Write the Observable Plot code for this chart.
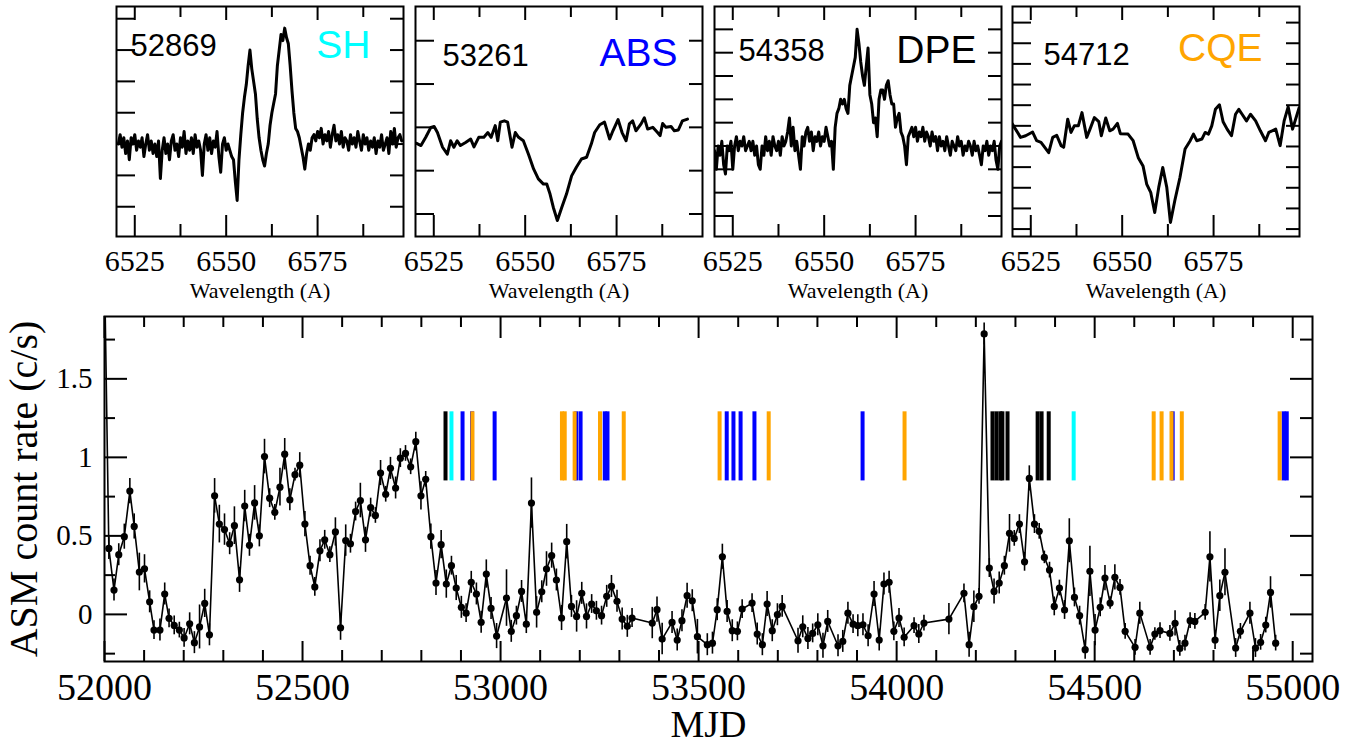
<!DOCTYPE html>
<html><head><meta charset="utf-8">
<script src="https://cdn.jsdelivr.net/npm/d3@7"></script>
<script src="https://cdn.jsdelivr.net/npm/@observablehq/plot@0.6"></script>
<style>
body{margin:0;background:#fff;}
#chart{position:relative;width:1367px;height:745px;overflow:hidden;background:#fff;}
#chart svg{position:absolute;background:transparent;overflow:visible;}
</style></head><body><div id="chart"></div>
<script>
// ---------------- DATA ----------------
// RXTE/ASM light curve: [MJD, count rate (c/s), error]
const lightCurve = [
[52000,2.2,0.08],[52011,0.42,0.07],[52024,0.155,0.07],[52036,0.38,0.07],[52050,0.495,0.08],[52064,0.785,0.08],
[52075,0.56,0.08],[52088,0.27,0.12],[52101,0.29,0.09],[52114,0.08,0.07],[52125,-0.10,0.06],[52140,-0.10,0.07],
[52152,0.13,0.07],[52163,-0.025,0.06],[52176,-0.07,0.06],[52189,-0.10,0.05],[52201,-0.15,0.06],[52215,-0.06,0.07],
[52227,-0.18,0.07],[52240,-0.08,0.14],[52253,0.07,0.09],[52265,-0.13,0.07],[52278,0.755,0.11],[52290,0.575,0.12],
[52303,0.54,0.10],[52316,0.45,0.07],[52328,0.565,0.12],[52341,0.22,0.08],[52354,0.69,0.10],[52366,0.44,0.07],
[52379,0.71,0.11],[52391,0.50,0.07],[52404,1.005,0.11],[52417,0.74,0.06],[52430,0.65,0.05],[52443,0.81,0.12],
[52455,1.02,0.10],[52468,0.73,0.07],[52481,0.89,0.04],[52493,0.95,0.08],[52506,0.575,0.08],[52519,0.31,0.06],
[52531,0.175,0.06],[52544,0.405,0.07],[52556,0.475,0.06],[52569,0.38,0.05],[52583,0.525,0.09],[52596,-0.085,0.08],
[52609,0.47,0.10],[52621,0.45,0.06],[52634,0.655,0.06],[52646,0.725,0.11],[52659,0.475,0.08],[52672,0.68,0.06],
[52684,0.63,0.05],[52697,0.90,0.08],[52710,0.765,0.05],[52722,0.93,0.07],[52735,0.805,0.07],[52747,0.995,0.06],
[52760,1.025,0.05],[52773,0.94,0.05],[52786,1.10,0.06],[52799,0.755,0.09],[52811,0.86,0.05],[52824,0.495,0.08],
[52837,0.20,0.08],[52850,0.444,0.09],[52863,0.193,0.09],[52876,0.31,0.06],[52888,0.168,0.08],[52901,0.045,0.07],
[52913,0.008,0.06],[52926,0.204,0.07],[52939,0.13,0.07],[52951,-0.05,0.07],[52964,0.257,0.09],[52976,0.038,0.07],
[52990,-0.138,0.08],[53015,0.104,0.18],[53027,-0.108,0.07],[53040,-0.008,0.06],[53053,0.146,0.07],[53065,-0.062,0.06],
[53078,0.709,0.16],[53091,0.013,0.10],[53104,0.144,0.07],[53116,0.289,0.11],[53129,0.374,0.08],[53141,0.219,0.07],
[53154,-0.023,0.08],[53167,0.463,0.11],[53179,0.051,0.07],[53192,-0.013,0.10],[53205,0.134,0.07],[53217,-0.013,0.08],
[53230,0.066,0.06],[53242,0.023,0.06],[53255,-0.008,0.06],[53268,0.115,0.07],[53280,0.178,0.07],[53294,0.083,0.07],
[53307,-0.03,0.07],[53320,-0.076,0.07],[53332,-0.023,0.06],[53383,-0.055,0.10],[53395,0.03,0.08],[53408,-0.157,0.10],
[53433,-0.051,0.07],[53446,-0.163,0.07],[53458,-0.04,0.07],[53471,0.119,0.08],[53484,0.087,0.07],[53497,-0.142,0.11],
[53522,-0.193,0.07],[53535,-0.183,0.07],[53547,0.03,0.07],[53560,0.367,0.08],[53572,0.019,0.07],[53585,-0.104,0.07],
[53598,-0.108,0.06],[53610,0.034,0.06],[53635,0.072,0.06],[53648,-0.125,0.07],[53661,-0.193,0.07],[53673,0.066,0.08],
[53686,-0.104,0.07],[53699,-0.002,0.07],[53711,0.051,0.07],[53751,-0.168,0.08],[53763,-0.079,0.07],[53776,-0.153,0.07],
[53788,-0.121,0.06],[53801,-0.066,0.07],[53814,-0.20,0.08],[53826,-0.045,0.07],[53852,-0.20,0.07],[53864,-0.172,0.07],
[53877,0.008,0.07],[53890,-0.062,0.06],[53902,-0.072,0.07],[53915,-0.066,0.07],[53928,-0.136,0.07],[53943,0.13,0.08],
[53956,-0.163,0.07],[53968,0.193,0.07],[53981,0.204,0.07],[53993,-0.108,0.06],[54006,-0.023,0.06],[54019,-0.146,0.06],
[54044,-0.072,0.05],[54056,-0.125,0.06],[54069,-0.055,0.05],[54132,-0.03,0.10],[54170,0.134,0.06],[54183,-0.193,0.08],
[54195,0.049,0.10],[54208,0.115,0.05],[54221,1.786,0.07],[54234,0.295,0.06],[54246,0.146,0.08],[54259,0.20,0.07],
[54272,0.31,0.06],[54285,0.516,0.12],[54297,0.484,0.05],[54310,0.575,0.06],[54323,0.335,0.06],[54335,0.866,0.08],
[54348,0.575,0.06],[54360,0.529,0.05],[54373,0.363,0.04],[54386,0.282,0.05],[54398,0.051,0.06],[54411,0.168,0.05],
[54424,0.028,0.06],[54436,0.469,0.14],[54449,0.108,0.06],[54462,-0.008,0.06],[54476,-0.225,0.06],[54488,0.274,0.16],
[54501,-0.10,0.10],[54514,0.045,0.06],[54526,0.231,0.08],[54539,0.072,0.04],[54551,0.236,0.08],[54564,0.172,0.05],
[54577,-0.108,0.05],[54602,-0.21,0.05],[54614,0.008,0.07],[54640,-0.21,0.05],[54652,-0.125,0.04],[54665,-0.104,0.05],
[54690,-0.121,0.05],[54703,-0.057,0.08],[54715,-0.217,0.05],[54728,-0.183,0.05],[54741,-0.04,0.05],[54753,-0.045,0.05],
[54779,0.013,0.05],[54791,0.367,0.16],[54804,-0.163,0.06],[54816,0.119,0.10],[54829,0.268,0.15],[54856,-0.214,0.06],
[54868,-0.108,0.05],[54892,0.008,0.07],[54906,-0.214,0.06],[54919,-0.178,0.05],[54932,-0.068,0.05],[54944,0.14,0.10],
[54957,-0.183,0.05]
];

// Dates (MJD) of the optical spectra, by profile type
const obsABS = [52904, 52928, 52985, 53191, 53202, 53263, 53270, 53571, 53588, 53606, 53641, 53914, 54697, 54977, 54985];
const obsCQE = [52929, 53155, 53162, 53187, 53251, 53311, 53553, 53677, 54020, 54649, 54669, 54694, 54720, 54967];
const obsSH  = [52876, 54447];
const obsDPE = [52861, 54242, 54252, 54262, 54267, 54280, 54356, 54366, 54384];
const obsBarRange = [0.85, 1.29];   // count-rate band the date markers span

const mjdTicks  = [52000, 52500, 53000, 53500, 54000, 54500, 55000];
const rateTicks = [0, 0.5, 1, 1.5];
const waveTicks = [6525, 6550, 6575];

// H-alpha spectra (normalised flux)
const shStart = 6520.5, shStep = 0.5;   // SH, MJD 52869
const shFlux = [
1.00,1.03,0.99,1.02,0.97,1.01,0.95,1.02,1.00,1.03,0.98,1.01,0.99,1.02,0.96,1.00,1.03,0.98,1.01,0.97,
1.00,0.96,1.01,0.89,0.98,1.02,0.97,1.00,0.95,1.01,1.03,0.98,1.00,0.96,1.02,0.99,1.04,0.97,1.01,0.98,
1.02,0.97,1.03,0.99,1.01,0.98,0.90,1.00,1.03,0.98,1.02,0.97,1.01,0.99,1.04,0.96,0.91,1.00,1.02,0.98,
1.00,0.98,0.96,0.95,0.88,0.82,0.95,1.03,1.10,1.15,1.19,1.25,1.30,1.24,1.20,1.16,1.08,1.02,0.98,0.95,
0.93,0.97,1.00,1.06,1.10,1.13,1.16,1.25,1.30,1.35,1.33,1.37,1.34,1.32,1.25,1.17,1.10,1.05,1.04,1.02,
0.99,0.96,0.92,0.97,1.00,0.98,1.02,1.03,1.01,1.04,1.02,1.05,1.00,1.03,1.01,1.04,0.99,1.03,1.06,1.01,
1.03,1.00,1.04,0.99,1.02,1.01,0.98,1.03,1.00,1.02,0.99,1.04,1.01,0.98,1.03,1.00,1.02,0.98,1.01,0.99,
1.02,0.97,1.01,0.99,1.03,0.98,1.00,1.02,0.97,1.04,1.00,1.05,0.99,1.02,1.03,1.01
];
const absWave = [6520.3,6521.5,6522.8,6524.2,6525.1,6526.0,6527.4,6528.7,6529.6,6530.5,
6531.4,6532.3,6533.7,6535.1,6536.0,6537.3,6538.7,6539.8,6540.7,6541.8,
6542.5,6543.2,6544.3,6545.2,6546.4,6547.3,6548.2,6549.5,6550.9,6552.3,
6553.6,6555.0,6555.9,6556.8,6557.7,6558.8,6560.0,6561.3,6562.7,6564.0,
6565.4,6566.8,6568.1,6569.0,6570.4,6571.7,6573.1,6574.0,6575.4,6576.5,
6577.6,6578.5,6579.4,6580.3,6581.7,6582.6,6583.5,6584.9,6586.2,6586.9,
6587.6,6588.5,6589.9,6590.8,6591.9,6593.0,6594.4];
const absFlux = [0.963,0.958,0.977,1.000,1.002,0.988,0.954,0.938,0.969,0.954,
0.969,0.958,0.965,0.973,0.955,0.977,0.977,0.988,0.977,1.004,
0.969,1.012,1.015,1.012,0.954,0.988,0.977,0.969,0.938,0.904,
0.881,0.869,0.869,0.846,0.815,0.785,0.815,0.846,0.888,0.908,
0.927,0.931,0.962,0.988,1.006,1.012,0.973,0.992,1.018,0.988,
0.969,1.008,1.015,0.992,1.008,1.022,0.996,1.000,0.988,0.981,
1.009,1.000,1.002,0.992,0.994,1.015,1.019];
const dpeStart = 6520.0, dpeStep = 0.5;  // DPE, MJD 54358
const dpeFlux = [
0.99,0.95,1.00,0.98,1.01,0.96,0.94,1.00,0.99,1.01,
0.95,1.00,1.02,0.99,1.01,1.00,1.02,0.99,1.00,1.01,
0.99,1.01,0.98,1.00,0.96,0.95,1.00,0.98,1.02,0.99,
1.01,0.98,1.02,1.00,0.99,1.01,0.98,1.02,1.00,1.01,
1.03,1.06,1.00,1.04,0.99,1.01,0.98,0.95,1.02,1.00,
1.03,1.04,1.01,1.03,0.99,1.02,1.01,1.03,1.00,1.02,
1.01,1.04,1.02,1.00,1.01,0.95,1.04,1.07,1.08,1.10,
1.09,1.10,1.08,1.07,1.13,1.15,1.17,1.19,1.25,1.22,
1.18,1.15,1.13,1.17,1.21,1.11,1.09,1.05,1.06,1.02,
1.10,1.12,1.12,1.10,1.13,1.14,1.11,1.09,1.09,1.04,
1.06,1.07,1.03,1.02,1.00,0.96,1.02,1.03,1.04,1.02,
1.04,1.01,1.03,1.02,1.04,1.01,1.03,1.02,1.00,1.03,
1.01,1.02,0.99,1.02,1.00,1.01,0.99,1.02,1.00,0.98,
1.01,1.00,0.99,1.02,1.00,1.01,0.98,1.00,0.99,1.01,
1.00,0.98,1.01,0.99,1.00,0.98,0.96,1.00,0.99,1.01,
0.98,1.00,0.99,1.01,0.97,0.95,1.00,1.01
];
const cqeWave = [6519.7,6520.4,6522.2,6523.6,6525.5,6526.6,6527.8,6529.9,6531.0,6532.1,
6533.3,6534.0,6535.1,6536.0,6536.9,6538.0,6539.0,6540.3,6541.2,6542.4,
6543.6,6544.3,6545.5,6546.6,6547.5,6548.7,6549.5,6551.6,6553.0,6554.4,
6555.7,6556.7,6557.8,6558.9,6560.0,6561.1,6562.2,6563.2,6564.4,6565.8,
6567.2,6568.6,6569.5,6570.4,6571.8,6572.7,6573.6,6574.5,6575.5,6576.6,
6577.6,6578.7,6579.9,6581.0,6581.9,6582.8,6584.0,6585.1,6586.5,6587.8,
6589.2,6590.1,6592.0,6593.2,6594.3,6595.4,6596.6,6598.4];
const cqeFlux = [1.008,0.998,0.972,0.976,0.985,0.964,0.960,0.935,0.972,0.977,
0.952,0.948,1.016,0.984,1.000,1.000,1.032,0.972,0.992,1.020,
1.010,0.976,1.019,0.988,0.992,1.006,0.981,0.980,0.964,0.923,
0.903,0.859,0.839,0.790,0.851,0.899,0.851,0.766,0.819,0.875,
0.944,0.964,0.980,0.964,0.968,0.984,0.980,1.000,1.040,1.051,
1.010,0.992,0.976,1.028,1.040,1.028,1.012,1.028,1.012,0.988,
0.964,0.984,0.992,0.952,1.012,1.046,0.992,1.044];

// ---------------- DRAWING ----------------
const serif = "'Liberation Serif','Times New Roman',serif";
const sans = "'Liberation Sans',Arial,Helvetica,sans-serif";
const chart = document.getElementById("chart");
function place(svg, left, top) {
  svg.style.left = left + "px"; svg.style.top = top + "px";
  chart.appendChild(svg);
}

const waveDomain = [6520, 6598.5];
const waveMinor = [6537.5, 6562.5, 6587.5];

const panels = [
  {wave: shFlux.map((_, i) => shStart + i * shStep), flux: shFlux, date: "52869", type: "SH", color: "#00ffff",
   left: 116, yDomain: [0.705, 1.439], yTicks: d3.range(0.8, 1.41, 0.1), dDx: 14, dDy: 27, tDx: -33, tDy: 24},
  {wave: absWave, flux: absFlux, date: "53261", type: "ABS", color: "#0000ff",
   left: 415, yDomain: [0.748, 1.279], yTicks: d3.range(0.8, 1.21, 0.1), dDx: 27, dDy: 37, tDx: -25, tDy: 32},
  {wave: dpeFlux.map((_, i) => dpeStart + i * dpeStep), flux: dpeFlux, date: "54358", type: "DPE", color: "#000000",
   left: 714, yDomain: [0.806, 1.299], yTicks: d3.range(0.85, 1.26, 0.05), dDx: 24, dDy: 32, tDx: -25, tDy: 29},
  {wave: cqeWave, flux: cqeFlux, date: "54712", type: "CQE", color: "#ffa500",
   left: 1012, yDomain: [0.732, 1.289], yTicks: d3.range(0.75, 1.26, 0.05), dDx: 31, dDy: 36, tDx: -37, tDy: 27}
];

for (const p of panels) {
  const fw = 287, fh = 230, ml = 8, mr = 8, mt = 6, mb = 69;
  const data = p.wave.map((w, i) => ({w, f: p.flux[i]}));
  const svg = Plot.plot({
    width: fw + ml + mr, height: fh + mt + mb,
    marginLeft: ml, marginRight: mr, marginTop: mt, marginBottom: mb,
    style: {background: "transparent", overflow: "visible"},
    x: {domain: waveDomain, axis: null},
    y: {domain: p.yDomain, axis: null},
    marks: [
      Plot.line(data, {x: "w", y: "f", stroke: "black", strokeWidth: 3, strokeLinejoin: "round", clip: true}),
      Plot.tickX(waveTicks, {x: d => d, insetTop: fh - 21, strokeWidth: 2}),
      Plot.tickX(waveMinor, {x: d => d, insetTop: fh - 12, strokeWidth: 2}),
      Plot.tickX(waveTicks, {x: d => d, insetBottom: fh - 14, strokeWidth: 2}),
      Plot.tickX(waveMinor, {x: d => d, insetBottom: fh - 11, strokeWidth: 2}),
      Plot.tickY(p.yTicks, {y: d => d, insetRight: fw - 19, strokeWidth: 2}),
      Plot.tickY(p.yTicks, {y: d => d, insetLeft: fw - 13, strokeWidth: 2}),
      Plot.frame({stroke: "black", strokeWidth: 2}),
      Plot.text(waveTicks, {x: d => d, text: d => String(d), frameAnchor: "bottom", dy: 13, lineAnchor: "top",
        textAnchor: "middle", fontSize: 30, fontFamily: serif, fill: "black"}),
      Plot.text(["Wavelength (A)"], {text: d => d, frameAnchor: "bottom", dy: 46, lineAnchor: "top",
        textAnchor: "middle", fontSize: 22, fontFamily: serif, fill: "black"}),
      Plot.text([p.date], {text: d => d, frameAnchor: "top-left", dx: p.dDx, dy: p.dDy, textAnchor: "start",
        lineAnchor: "top", fontSize: 31, fontFamily: sans, fill: "black"}),
      Plot.text([p.type], {text: d => d, frameAnchor: "top-right", dx: p.tDx, dy: p.tDy, textAnchor: "end",
        lineAnchor: "top", fontSize: 39, fontFamily: sans, fill: p.color})
    ]
  });
  place(svg, p.left - ml, 0);
}

// Bottom light curve
{
  const W = 1367, H = 445, ml = 104, mr = 55, mt = 16, mb = 84;
  const fw = W - ml - mr, fh = H - mt - mb;
  const lc = lightCurve.map(([mjd, rate, err]) => ({mjd, rate, err}));
  const mjdMinor = d3.range(52100, 55050, 100).filter(d => d % 500 !== 0);
  const rateMinor = [-0.25, 0.25, 0.75, 1.25, 1.75];
  const bar = (dates, color) => Plot.ruleX(dates, {x: d => d, y1: obsBarRange[0], y2: obsBarRange[1], stroke: color, strokeWidth: 4});
  const svg = Plot.plot({
    width: W, height: H, marginLeft: ml, marginRight: mr, marginTop: mt, marginBottom: mb,
    style: {background: "transparent", overflow: "visible"},
    x: {domain: [52000, 55050], axis: null},
    y: {domain: [-0.3, 1.897], axis: null},
    marks: [
      bar(obsABS, "#0000ff"),
      bar(obsCQE, "#ffa500"),
      bar(obsSH, "#00ffff"),
      bar(obsDPE, "#000000"),
      Plot.ruleX(lc, {x: "mjd", y1: d => d.rate - d.err, y2: d => d.rate + d.err, stroke: "black", strokeWidth: 1.6, clip: true}),
      Plot.line(lc, {x: "mjd", y: "rate", stroke: "black", strokeWidth: 1.6, clip: true}),
      Plot.dot(lc, {x: "mjd", y: "rate", r: 3.6, fill: "black", stroke: "none", clip: true}),
      Plot.tickX(mjdTicks, {x: d => d, insetTop: fh - 20, strokeWidth: 2}),
      Plot.tickX(mjdMinor, {x: d => d, insetTop: fh - 11, strokeWidth: 2}),
      Plot.tickX(mjdTicks, {x: d => d, insetBottom: fh - 22, strokeWidth: 2}),
      Plot.tickX(mjdMinor, {x: d => d, insetBottom: fh - 11, strokeWidth: 2}),
      Plot.tickY(rateTicks, {y: d => d, insetRight: fw - 23, strokeWidth: 2}),
      Plot.tickY(rateMinor, {y: d => d, insetRight: fw - 11, strokeWidth: 2}),
      Plot.tickY(rateTicks, {y: d => d, insetLeft: fw - 22, strokeWidth: 2}),
      Plot.tickY(rateMinor, {y: d => d, insetLeft: fw - 12, strokeWidth: 2}),
      Plot.frame({stroke: "black", strokeWidth: 2}),
      Plot.text(mjdTicks, {x: d => d, text: d => String(d), frameAnchor: "bottom", dy: 12, lineAnchor: "top",
        textAnchor: "middle", fontSize: 38, fontFamily: serif, fill: "black"}),
      Plot.text(rateTicks, {y: d => d, text: d => String(d), frameAnchor: "left", dx: -12, textAnchor: "end",
        fontSize: 29, fontFamily: serif, fill: "black"}),
      Plot.text(["MJD"], {text: d => d, frameAnchor: "bottom", dy: 49, lineAnchor: "top",
        textAnchor: "middle", fontSize: 38, fontFamily: serif, fill: "black"}),
      Plot.text(["ASM count rate (c/s)"], {text: d => d, frameAnchor: "left", dx: -80, rotate: -90,
        textAnchor: "middle", lineAnchor: "middle", fontSize: 40, fontFamily: serif, fill: "black"})
    ]
  });
  place(svg, 0, 300);
}
</script>
</body></html>
